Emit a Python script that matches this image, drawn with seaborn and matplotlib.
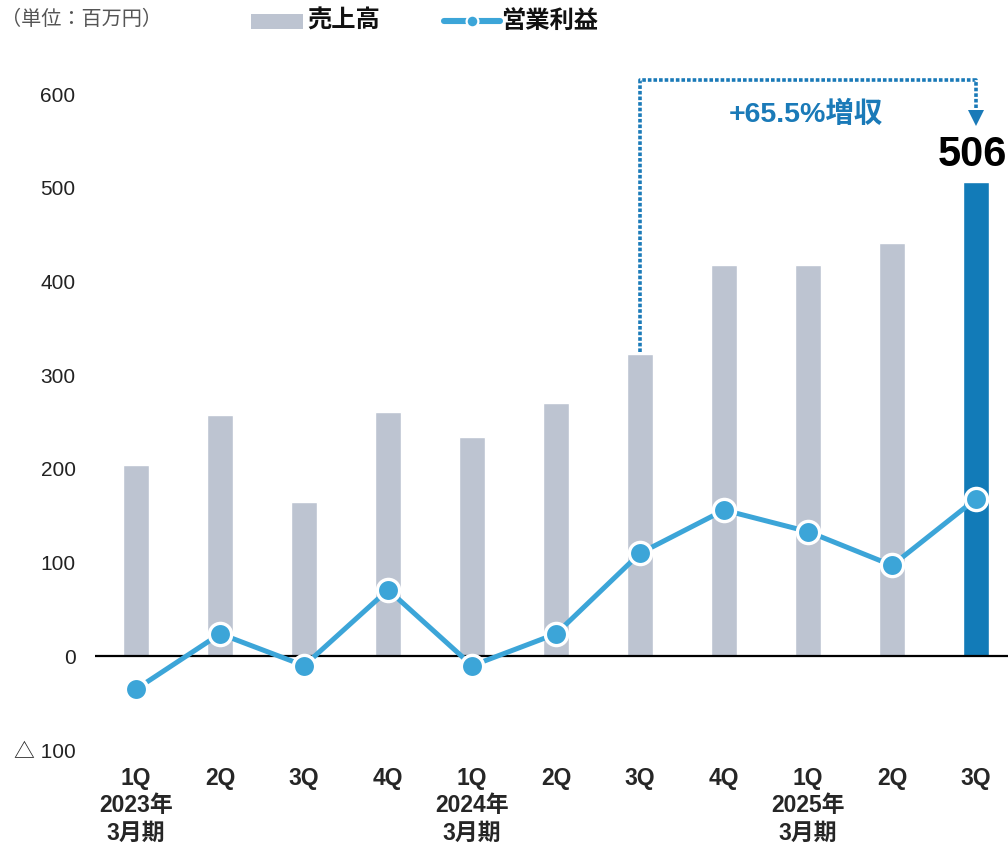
import matplotlib
matplotlib.use("Agg")
import matplotlib.pyplot as plt
from matplotlib.patches import Rectangle
from matplotlib.lines import Line2D
import numpy as np
import pandas as pd
import seaborn as sns

# ---- data (百万円) ----
quarters = ["1Q", "2Q", "3Q", "4Q", "1Q", "2Q", "3Q", "4Q", "1Q", "2Q", "3Q"]
fiscal_years = ["2023年\n3月期", "", "", "", "2024年\n3月期", "", "", "",
                "2025年\n3月期", "", ""]
sales = [204, 257, 165, 261, 234, 270, 323, 417, 417, 441, 506]
operating_income = [-35, 24, -10, 71, -10, 24, 110, 156, 133, 97, 168]
y_ticks = [-100, 0, 100, 200, 300, 400, 500, 600]
y_tick_labels = ["△ 100", "0", "100", "200", "300", "400", "500", "600"]
growth_label = "+65.5%増収"

GRAY = "#bdc4d1"
HIGHLIGHT = "#127bb8"
LINE = "#3ca5d8"
ANNOT = "#1a7ab8"

sns.set_style("white")
plt.rcParams["font.family"] = ["Liberation Sans", "Noto Sans CJK JP", "DejaVu Sans"]

pos = np.arange(len(sales))
df = pd.DataFrame({
    "pos": pos,
    "sales": sales,
    "op": operating_income,
    "group": ["past"] * (len(sales) - 1) + ["latest"],
})

fig = plt.figure(figsize=(10.08, 8.48), dpi=100)
ax = fig.add_axes([95 / 1008, 98 / 848, 1 - 95 / 1008, (750 - 94) / 848])

sns.barplot(data=df, x="pos", y="sales", hue="group",
            palette={"past": GRAY, "latest": HIGHLIGHT},
            native_scale=True, width=0.31, dodge=False, legend=False,
            saturation=1, ax=ax, zorder=2)

ax.axhline(0, color="black", lw=1.6, zorder=3)

sns.lineplot(data=df, x="pos", y="op", color=LINE, lw=3.6, marker="o",
             markersize=16, markerfacecolor=LINE, markeredgecolor="white",
             markeredgewidth=2.4, ax=ax, zorder=5, legend=False)

ax.set_xlim(-0.49, 10.38)
ax.set_ylim(-100, 600)
for s in ax.spines.values():
    s.set_visible(False)
ax.set_xlabel("")
ax.set_ylabel("")
ax.set_yticks(y_ticks)
ax.set_yticklabels(y_tick_labels, fontsize=15, color="#222222")
ax.tick_params(axis="y", length=0, pad=14)
xlabels = [q + ("\n" + f if f else "") for q, f in zip(quarters, fiscal_years)]
ax.set_xticks(pos)
ax.set_xticklabels(xlabels, fontsize=16.5, fontweight="bold", linespacing=1.25,
                   va="top", ha="center", multialignment="center")
ax.tick_params(axis="x", length=0, pad=12)
ax.grid(False)

# value label on the latest bar
ax.annotate(f"{sales[-1]}", xy=(pos[-1], sales[-1]), xytext=(-3, 5),
            textcoords="offset points", ha="center", va="bottom",
            fontsize=30, fontweight="bold", color="black",
            annotation_clip=False)

# growth bracket from prior-year 3Q to the latest quarter
top = 615
ax.plot([pos[6], pos[6], pos[-1], pos[-1]], [sales[6] + 2, top, top, 585],
        color=ANNOT, lw=2.6, linestyle=(0, (1, 0.55)), clip_on=False, zorder=4,
        solid_capstyle="butt", dash_capstyle="butt")
ax.plot([pos[-1]], [574], marker="v", markersize=12, color=ANNOT,
        clip_on=False, zorder=4, markeredgewidth=0)
ax.text((pos[6] + pos[-1]) / 2 - 0.02, 578, growth_label, ha="center", va="center",
        fontsize=20.5, fontweight="bold", color=ANNOT, clip_on=False)

# header: unit and legend, drawn in pixel space
over = fig.add_axes([0, 0, 1, 1], zorder=10)
over.set_xlim(0, 1008)
over.set_ylim(848, 0)
over.axis("off")
over.text(1, 19, "（単位：百万円）", fontsize=14.5, color="#555555",
          va="center", ha="left")
over.add_patch(Rectangle((251, 14), 52, 15, color=GRAY, lw=0))
over.text(307, 21, "売上高", fontsize=17.5, fontweight="bold", va="center",
          ha="left", color="#111111")
over.add_line(Line2D([444, 500], [21, 21], color=LINE, lw=4.4,
                     solid_capstyle="round"))
over.add_line(Line2D([472], [21], marker="o", markersize=8.5,
                     markerfacecolor=LINE, markeredgecolor="white",
                     markeredgewidth=1.6, lw=0))
over.text(501, 21, "営業利益", fontsize=17.5, fontweight="bold", va="center",
          ha="left", color="#111111")

fig.savefig("out.png", dpi=100)
